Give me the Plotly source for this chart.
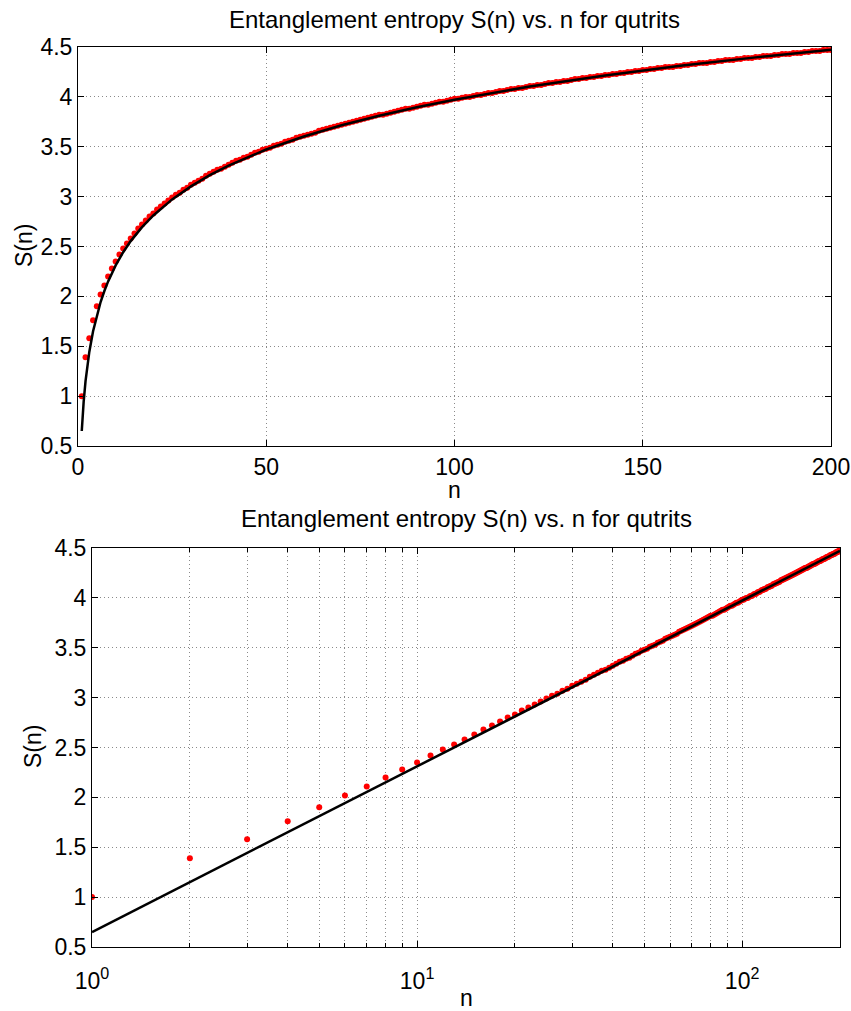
import plotly.graph_objects as go

# ---- data ----
n_pts = list(range(1, 201))
S_pts = [
    1.00, 1.39, 1.58, 1.76, 1.90, 2.02, 2.11, 2.20, 2.28, 2.35,
    2.42, 2.48, 2.53, 2.58, 2.63, 2.68, 2.72, 2.76, 2.80, 2.83,
    2.87, 2.90, 2.93, 2.96, 2.99, 3.02, 3.04, 3.07, 3.09, 3.12,
    3.14, 3.16, 3.18, 3.21, 3.23, 3.25, 3.27, 3.28, 3.30, 3.32,
    3.34, 3.36, 3.37, 3.39, 3.40, 3.42, 3.44, 3.45, 3.47, 3.48,
    3.49, 3.51, 3.52, 3.53, 3.55, 3.56, 3.57, 3.59, 3.60, 3.61,
    3.62, 3.63, 3.64, 3.66, 3.67, 3.68, 3.69, 3.70, 3.71, 3.72,
    3.73, 3.74, 3.75, 3.76, 3.77, 3.78, 3.79, 3.80, 3.81, 3.82,
    3.82, 3.83, 3.84, 3.85, 3.86, 3.87, 3.88, 3.88, 3.89, 3.90,
    3.91, 3.92, 3.92, 3.93, 3.94, 3.95, 3.95, 3.96, 3.97, 3.98,
    3.98, 3.99, 4.00, 4.00, 4.01, 4.02, 4.02, 4.03, 4.04, 4.04,
    4.05, 4.06, 4.06, 4.07, 4.08, 4.08, 4.09, 4.09, 4.10, 4.11,
    4.11, 4.12, 4.12, 4.13, 4.14, 4.14, 4.15, 4.15, 4.16, 4.16,
    4.17, 4.18, 4.18, 4.19, 4.19, 4.20, 4.20, 4.21, 4.21, 4.22,
    4.22, 4.23, 4.23, 4.24, 4.24, 4.25, 4.25, 4.26, 4.26, 4.27,
    4.27, 4.28, 4.28, 4.29, 4.29, 4.30, 4.30, 4.30, 4.31, 4.31,
    4.32, 4.32, 4.33, 4.33, 4.34, 4.34, 4.34, 4.35, 4.35, 4.36,
    4.36, 4.37, 4.37, 4.37, 4.38, 4.38, 4.39, 4.39, 4.39, 4.40,
    4.40, 4.41, 4.41, 4.41, 4.42, 4.42, 4.43, 4.43, 4.43, 4.44,
    4.44, 4.44, 4.45, 4.45, 4.46, 4.46, 4.46, 4.47, 4.47, 4.47,
]

n_fit = [1, 1.25, 1.5, 2, 3, 4, 5, 6, 7, 8, 10, 12, 14, 17, 20, 25, 30, 35,
         40, 50, 60, 70, 80, 90, 100, 120, 140, 160, 180, 200]
S_fit = [0.650, 0.811, 0.943, 1.150, 1.443, 1.650, 1.811, 1.943, 2.054, 2.150,
         2.311, 2.443, 2.554, 2.694, 2.811, 2.972, 3.103, 3.215, 3.311, 3.472,
         3.603, 3.715, 3.811, 3.896, 3.972, 4.103, 4.215, 4.311, 4.396, 4.472]

title_text = "Entanglement entropy S(n) vs. n for qutrits"
y_ticks = [0.5, 1, 1.5, 2, 2.5, 3, 3.5, 4, 4.5]
y_ticktext = ["0.5", "1", "1.5", "2", "2.5", "3", "3.5", "4", "4.5"]
x_ticks_lin = [0, 50, 100, 150, 200]
x_ticks_log = [1, 10, 100]
x_ticktext_log = ["10<sup>0</sup>", "10<sup>1</sup>", "10<sup>2</sup>"]
x_minor_log = [2, 3, 4, 5, 6, 7, 8, 9, 20, 30, 40, 50, 60, 70, 80, 90, 200]

W, H = 851, 1011
FONT = "Liberation Sans, Arial, Helvetica, sans-serif"
GRID = "#8a8a8a"
DASH = "1px,3px"

fig = go.Figure()

for xa, ya in (("x", "y"), ("x2", "y2")):
    fig.add_trace(go.Scatter(x=n_pts, y=S_pts, mode="markers", xaxis=xa, yaxis=ya,
                             marker=dict(color="#ff0000", size=6, line=dict(width=0)),
                             showlegend=False, cliponaxis=True))
    fig.add_trace(go.Scatter(x=n_fit, y=S_fit, mode="lines", xaxis=xa, yaxis=ya,
                             line=dict(color="black", width=2.5),
                             showlegend=False))

def px_x(v):
    return v / W

def px_y(v):
    return 1 - v / H

common_axis = dict(showline=True, linecolor="black", linewidth=1, mirror="ticks",
                   ticks="inside", ticklen=6, tickcolor="black", automargin=False,
                   showgrid=True, gridcolor=GRID, griddash=DASH, gridwidth=1,
                   zeroline=False, tickfont=dict(family=FONT, size=23, color="black"))

fig.update_layout(
    width=W, height=H,
    margin=dict(l=0, r=0, t=0, b=0, autoexpand=False),
    paper_bgcolor="white", plot_bgcolor="white",
    font=dict(family=FONT, color="black"),
    xaxis=dict(domain=[px_x(78), px_x(831)], range=[0, 200], anchor="y",
               tickvals=x_ticks_lin, **common_axis),
    yaxis=dict(domain=[px_y(446), px_y(47)], range=[0.5, 4.5], anchor="x",
               tickvals=y_ticks, ticktext=y_ticktext, **common_axis),
    xaxis2=dict(domain=[px_x(92), px_x(840)], type="log", range=[0, 2.30103], anchor="y2",
                tickvals=x_ticks_log, ticktext=x_ticktext_log, ticklabelstandoff=13,
                minor=dict(tickvals=x_minor_log, ticks="inside", ticklen=4, tickcolor="black",
                           showgrid=True, gridcolor=GRID, griddash=DASH, gridwidth=1),
                **common_axis),
    yaxis2=dict(domain=[px_y(947), px_y(548)], range=[0.5, 4.5], anchor="x2",
                tickvals=y_ticks, ticktext=y_ticktext, **common_axis),
)

ann_font = dict(family=FONT, size=23, color="black")
anns = [
    dict(text=title_text, x=px_x(454.5), y=px_y(20), font=dict(family=FONT, size=24, color="black")),
    dict(text=title_text, x=px_x(466), y=px_y(518), font=dict(family=FONT, size=24, color="black")),
    dict(text="n", x=px_x(454.5), y=px_y(490), font=ann_font),
    dict(text="n", x=px_x(466), y=px_y(998), font=ann_font),
    dict(text="S(n)", x=px_x(24), y=px_y(246), textangle=-90, font=ann_font),
    dict(text="S(n)", x=px_x(33), y=px_y(747), textangle=-90, font=ann_font),
]
for a in anns:
    fig.add_annotation(xref="paper", yref="paper", showarrow=False,
                       xanchor="center", yanchor="middle", **a)

fig.write_html("out.html", config={"displayModeBar": False},
               post_script="document.body.style.margin='0';document.body.style.overflow='hidden';")
